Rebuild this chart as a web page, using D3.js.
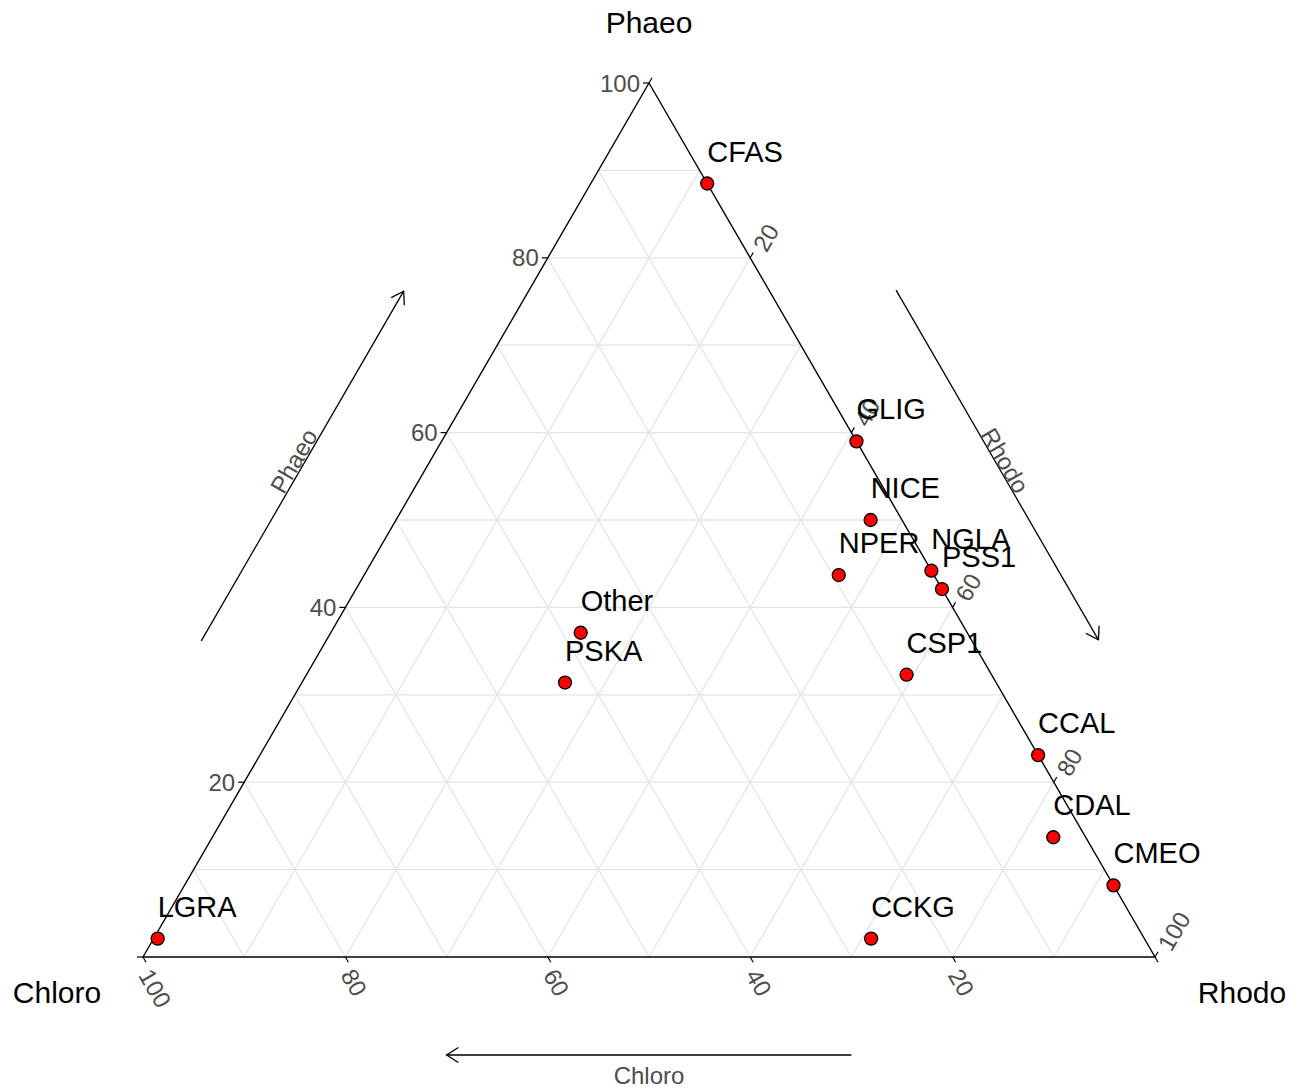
<!DOCTYPE html>
<html>
<head>
<meta charset="utf-8">
<script src="https://cdn.jsdelivr.net/npm/d3@7"></script>
<style>
  body { margin: 0; background: #fff; }
  text { font-family: "Liberation Sans", Arial, sans-serif; }
</style>
</head>
<body>
<svg id="chart" width="1307" height="1089"></svg>
<script>
// data: composition (%) of each sample
const names = ['CFAS', 'GLIG', 'NICE', 'NPER', 'NGLA', 'PSS1', 'CSP1', 'Other', 'PSKA', 'CCAL', 'CDAL', 'CMEO', 'CCKG', 'LGRA'];
const chloro = [0, 0, 3.1, 9.4, 0, 0, 8.4, 38.2, 42.6, 0, 3.2, 0, 27.0, 97.5];
const phaeo = [88.5, 59, 50, 43.7, 44.2, 42.1, 32.3, 37.1, 31.4, 23.1, 13.7, 8.2, 2.1, 2.1];
const rhodo = [11.5, 41, 46.9, 46.9, 55.8, 57.9, 59.3, 24.7, 26.0, 76.9, 83.1, 91.8, 70.9, 0.4];

const tickValues = [0, 20, 40, 60, 80, 100];
const gridValues = d3.range(10, 100, 10);

const svg = d3.select('#chart');

/**
 * SIZE DEFINITIONS
 */
const triLeft = 143;
const triSide = 1012;
const triBottom = 957;
const triTop = 83;

/**
 * SCALES
 */
const yScale = d3.scaleLinear().domain([0, 100]).range([triBottom, triTop]);
const xScale = d3.scaleLinear().domain([0, 100]).range([0, triSide]);

// (chloro, phaeo, rhodo) -> [x, y]
function project(c, p, r) {
  const s = c + p + r;
  const pp = (p / s) * 100;
  const rr = (r / s) * 100;
  return [triLeft + xScale(rr) + xScale(pp) / 2, yScale(pp)];
}

const data = names.map((n, i) => ({ name: n, c: chloro[i], p: phaeo[i], r: rhodo[i] }));

const gridColor = '#e5e5e5';
const tickColor = '#4d4d4d';

/**
 * GRID
 */
const gridLines = [];
gridValues.forEach((k) => {
  gridLines.push([project(100 - k, k, 0), project(0, k, 100 - k)]);
  gridLines.push([project(100 - k, 0, k), project(0, 100 - k, k)]);
  gridLines.push([project(k, 0, 100 - k), project(k, 100 - k, 0)]);
});

svg
  .append('g')
  .selectAll('line')
  .data(gridLines)
  .join('line')
  .attr('x1', (d) => d[0][0])
  .attr('y1', (d) => d[0][1])
  .attr('x2', (d) => d[1][0])
  .attr('y2', (d) => d[1][1])
  .attr('stroke', gridColor)
  .attr('stroke-width', 1.3);

/**
 * BORDER
 */
const vT = project(0, 100, 0);
const vL = project(100, 0, 0);
const vR = project(0, 0, 100);

svg
  .append('path')
  .attr('d', d3.line()([vT, vL, vR, vT]))
  .attr('fill', 'none')
  .attr('stroke', '#000')
  .attr('stroke-width', 1.4)
  .attr('stroke-linejoin', 'miter');

/**
 * TICKS + TICK LABELS
 */
const cos60 = 0.5;
const sin60 = Math.sqrt(3) / 2;
const tickLen = 6;

// Phaeo (left edge): horizontal ticks
const gPhaeo = svg.append('g');
tickValues.forEach((v) => {
  const [x, y] = project(100 - v, v, 0);
  gPhaeo.append('line')
    .attr('x1', x).attr('y1', y).attr('x2', x - tickLen).attr('y2', y)
    .attr('stroke', '#000').attr('stroke-width', 1.2);
  if (v > 0) {
    gPhaeo.append('text')
      .attr('x', x - 9)
      .attr('y', y)
      .attr('text-anchor', 'end')
      .attr('dominant-baseline', 'central')
      .attr('font-size', 24)
      .attr('fill', tickColor)
      .text(v);
  }
});

// Rhodo (right edge): ticks going up-right
const gRhodo = svg.append('g');
tickValues.forEach((v) => {
  const [x, y] = project(0, 100 - v, v);
  gRhodo.append('line')
    .attr('x1', x).attr('y1', y).attr('x2', x + tickLen * cos60).attr('y2', y - tickLen * sin60)
    .attr('stroke', '#000').attr('stroke-width', 1.2);
  if (v > 0) {
    gRhodo.append('text')
      .attr('transform', `translate(${x + 9},${y - 8.5}) rotate(-60)`)
      .attr('dominant-baseline', 'central')
      .attr('font-size', 24)
      .attr('fill', tickColor)
      .text(v);
  }
});

// Chloro (bottom edge): ticks going down-right
const gChloro = svg.append('g');
tickValues.forEach((v) => {
  const [x, y] = project(v, 0, 100 - v);
  gChloro.append('line')
    .attr('x1', x).attr('y1', y).attr('x2', x + tickLen * cos60).attr('y2', y + tickLen * sin60)
    .attr('stroke', '#000').attr('stroke-width', 1.2);
  if (v > 0) {
    gChloro.append('text')
      .attr('transform', `translate(${x + 2},${y + 14}) rotate(60)`)
      .attr('dominant-baseline', 'central')
      .attr('font-size', 24)
      .attr('fill', tickColor)
      .text(v);
  }
});

/**
 * AXIS TITLES (vertices)
 */
svg.append('text')
  .attr('x', vT[0]).attr('y', 33)
  .attr('text-anchor', 'middle')
  .attr('font-size', 30)
  .text('Phaeo');

svg.append('text')
  .attr('x', 57).attr('y', 1003)
  .attr('text-anchor', 'middle')
  .attr('font-size', 30)
  .text('Chloro');

svg.append('text')
  .attr('x', 1242).attr('y', 1003)
  .attr('text-anchor', 'middle')
  .attr('font-size', 30)
  .text('Rhodo');

/**
 * ARROWS
 */
function edgePoint(a, b, t, nx, ny, d) {
  return [a[0] + (b[0] - a[0]) * t + nx * d, a[1] + (b[1] - a[1]) * t + ny * d];
}

function arrow(from, to) {
  const g = svg.append('g');
  g.append('line')
    .attr('x1', from[0]).attr('y1', from[1])
    .attr('x2', to[0]).attr('y2', to[1])
    .attr('stroke', '#000').attr('stroke-width', 1.3);

  const ang = Math.atan2(to[1] - from[1], to[0] - from[0]);
  const hl = 14;
  const spread = Math.PI / 5.5;
  const p1 = [to[0] - hl * Math.cos(ang - spread), to[1] - hl * Math.sin(ang - spread)];
  const p2 = [to[0] - hl * Math.cos(ang + spread), to[1] - hl * Math.sin(ang + spread)];
  g.append('path')
    .attr('d', d3.line()([p1, to, p2]))
    .attr('fill', 'none')
    .attr('stroke', '#000')
    .attr('stroke-width', 1.3);
  return g;
}

// left edge (Phaeo), pointing up
const nL = [-sin60, -cos60];
const aL0 = edgePoint(vL, vT, 0.3, nL[0], nL[1], 108);
const aL1 = edgePoint(vL, vT, 0.7, nL[0], nL[1], 108);
arrow(aL0, aL1);
const tL = edgePoint(vL, vT, 0.5, nL[0], nL[1], 118);
svg.append('text')
  .attr('transform', `translate(${tL[0]},${tL[1]}) rotate(-60)`)
  .attr('text-anchor', 'middle')
  .attr('dominant-baseline', 'central')
  .attr('font-size', 24)
  .attr('fill', tickColor)
  .text('Phaeo');

// right edge (Rhodo), pointing down
const nR = [sin60, -cos60];
const aR0 = edgePoint(vT, vR, 0.3, nR[0], nR[1], 110);
const aR1 = edgePoint(vT, vR, 0.7, nR[0], nR[1], 110);
arrow(aR0, aR1);
const tR = edgePoint(vT, vR, 0.5, nR[0], nR[1], 119);
svg.append('text')
  .attr('transform', `translate(${tR[0]},${tR[1]}) rotate(60)`)
  .attr('text-anchor', 'middle')
  .attr('dominant-baseline', 'central')
  .attr('font-size', 24)
  .attr('fill', tickColor)
  .text('Rhodo');

// bottom edge (Chloro), pointing left
const aB0 = edgePoint(vL, vR, 0.7, 0, 1, 98);
const aB1 = edgePoint(vL, vR, 0.3, 0, 1, 98);
arrow(aB0, aB1);
svg.append('text')
  .attr('x', (vL[0] + vR[0]) / 2)
  .attr('y', triBottom + 127)
  .attr('text-anchor', 'middle')
  .attr('font-size', 24)
  .attr('fill', tickColor)
  .text('Chloro');

/**
 * POINTS + LABELS
 */
svg
  .append('g')
  .selectAll('circle')
  .data(data)
  .join('circle')
  .attr('cx', (d) => project(d.c, d.p, d.r)[0])
  .attr('cy', (d) => project(d.c, d.p, d.r)[1])
  .attr('r', 6.5)
  .attr('fill', '#ff0000')
  .attr('stroke', '#000')
  .attr('stroke-width', 1.3);

svg
  .append('g')
  .selectAll('text')
  .data(data)
  .join('text')
  .attr('x', (d) => project(d.c, d.p, d.r)[0])
  .attr('y', (d) => project(d.c, d.p, d.r)[1] - 22)
  .attr('font-size', 29)
  .attr('fill', '#000')
  .text((d) => d.name);
</script>
</body>
</html>
